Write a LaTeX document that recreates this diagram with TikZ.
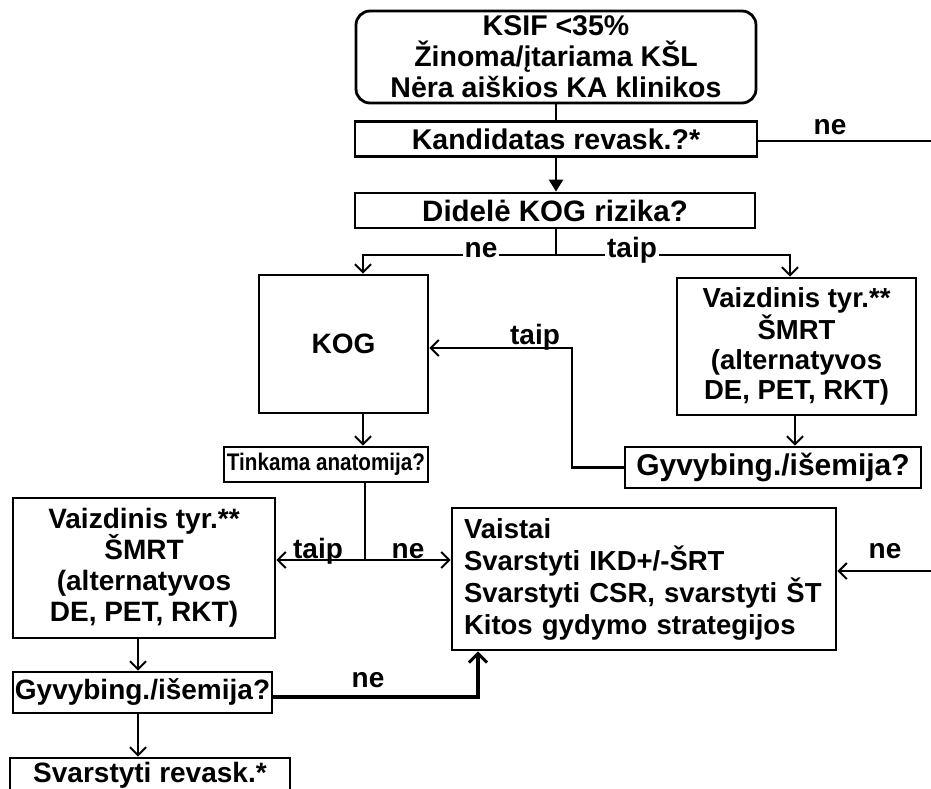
\documentclass[tikz,border=0pt]{standalone}
\usepackage{fontspec}
\setmainfont{Liberation Sans}
\newfontfamily\narrowfont[FakeStretch=0.86]{Liberation Sans}
\usetikzlibrary{arrows.meta}
\begin{document}
\begin{tikzpicture}[x=1pt,y=-1pt,
  font=\bfseries\fontsize{28}{31}\selectfont,
  box/.style={draw, line width=2.8pt, inner sep=0pt, align=center},
  conn/.style={line width=2.2pt},
  arr/.style={conn, -{Straight Barb[length=8pt,width=16pt,line width=2pt]}},
  lbl/.style={inner sep=2pt, fill=white}
]
\useasboundingbox (0,0) rectangle (931,788);
% boxes
\node[box, rounded corners=14pt, minimum width=400pt, minimum height=92pt,
  font=\bfseries\fontsize{28.5}{31}\selectfont] (top) at (556,57)
  {KSIF <35\%\\Žinoma/įtariama KŠL\\Nėra aiškios KA klinikos};
\node[box, minimum width=402pt, minimum height=35pt, font=\bfseries\fontsize{28.5}{31}\selectfont] (kand) at (556,139) {Kandidatas revask.?*};
\node[box, minimum width=400pt, minimum height=35pt, font=\bfseries\fontsize{29.5}{31}\selectfont] (did) at (555,210.5) {Didelė KOG rizika?};
\node[box, minimum width=169pt, minimum height=138pt] (kog) at (343.5,344) {KOG};
\node[box, minimum width=239pt, minimum height=137pt, font=\bfseries\fontsize{27.5}{30}\selectfont] (vr) at (796.5,346.5)
  {Vaizdinis tyr.**\\ŠMRT\\(alternatyvos\\DE, PET, RKT)};
\node[box, minimum width=296pt, minimum height=41pt, font=\bfseries\fontsize{30}{31}\selectfont] (gr) at (773,467.5) {Gyvybing./išemija?};
\node[box, minimum width=204pt, minimum height=35pt, font=\narrowfont\bfseries\fontsize{24}{27}\selectfont] (tink) at (326,464.5) {Tinkama anatomija?};
\node[box, minimum width=262pt, minimum height=140pt] (vl) at (144,568)
  {Vaizdinis tyr.**\\ŠMRT\\(alternatyvos\\DE, PET, RKT)};
\node[box, inner xsep=12pt, text width=360pt, align=left, minimum height=142pt,
  font=\bfseries\fontsize{27.5}{32}\selectfont] (vais) at (644,579)
  {Vaistai\\Svarstyti IKD+/-ŠRT\\Svarstyti CSR, svarstyti ŠT\\Kitos gydymo strategijos};
\node[box, minimum width=259pt, minimum height=41pt] (gl) at (142.5,692.5) {Gyvybing./išemija?};
\node[box, minimum width=280pt, minimum height=34pt] (sv) at (150,775) {Svarstyti revask.*};
% coordinates
\coordinate (rtop) at (931,141);
\coordinate (rmid) at (931,571);
\coordinate (br) at (556,255);
\coordinate (bl) at (365,560);
% connectors
\draw[conn] (top.south -| br) -- (kand.north -| br);
\draw[conn, -{Triangle[length=12pt,width=14pt]}] (kand.south -| br) -- (did.north -| br);
\draw[conn] (did.south -| br) -- (br);
\draw[arr] (br) -- (363,255) -- (kog.north -| 363,0);
\draw[arr] (br) -- (790,255) -- (vr.north -| 790,0);
\node[lbl] at (481,250) {ne};
\node[lbl] at (632,250) {taip};
\draw[conn] (kand.east |- rtop) -- (rtop);
\node at (830,127) {ne};
\draw[arr] (kog.south -| 363,0) -- (tink.north -| 363,0);
\draw[arr] (vr.south -| 795,0) -- (gr.north -| 795,0);
\draw[arr] (gr.west) -- (572,467.5) -- (572,348) -- (kog.east |- 0,348);
\node at (535,337) {taip};
\draw[conn] (tink.south -| bl) -- (bl);
\draw[arr] (bl) -- (vl.east |- bl);
\draw[arr] (bl) -- (vais.west |- bl);
\node[anchor=base] at (318,558) {taip};
\node[anchor=base] at (408,558) {ne};
\draw[arr] (rmid) -- (vais.east |- rmid);
\node at (885,551) {ne};
\draw[arr] (vl.south -| 138,0) -- (gl.north -| 138,0);
\draw[arr] (gl.south -| 138,0) -- (sv.north -| 138,0);
\draw[line width=4.5pt, -{Straight Barb[length=9pt,width=18pt,line width=3pt]}] (gl.east |- 0,697) -- (478,697) -- (vais.south -| 478,0);
\node at (368,680) {ne};
\end{tikzpicture}
\end{document}
